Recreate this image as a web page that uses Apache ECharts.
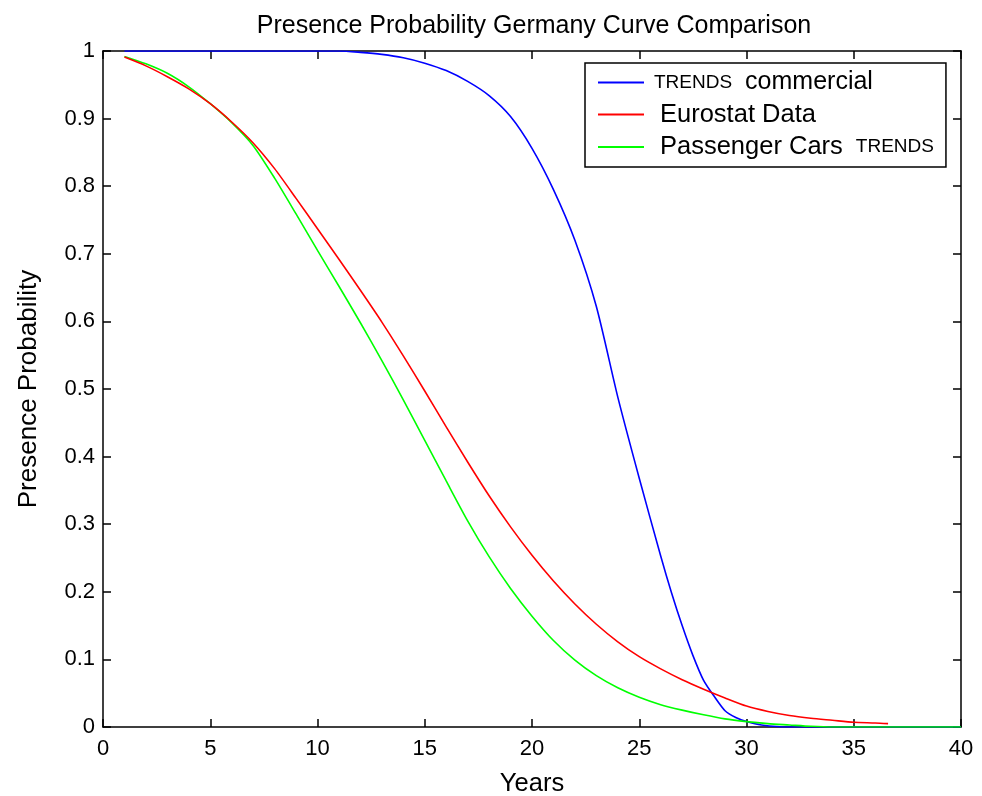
<!DOCTYPE html>
<html>
<head>
<meta charset="utf-8">
<title>Presence Probability Germany Curve Comparison</title>
<script src="https://cdn.jsdelivr.net/npm/echarts@6/dist/echarts.min.js"></script>
<style>
  html, body { margin: 0; padding: 0; background: #ffffff; }
  #chart { width: 982px; height: 796px; }
</style>
</head>
<body>
<div id="chart"></div>
<script>
// Survival (presence) curves by vehicle age in years
const commercialYears = [1, 2, 3, 4, 5, 6, 7, 8, 9, 10, 11, 12, 13, 14, 15, 16, 17, 18, 19, 20,
  21, 22, 23, 24, 25, 26, 26.5, 27, 27.5, 28, 28.5, 29, 29.5, 30, 30.7, 32, 34, 36, 38, 40];
const commercialValues = [1, 1, 1, 1, 1, 1, 1, 1, 1, 1, 1, 0.998, 0.995, 0.99, 0.982, 0.971, 0.955, 0.934, 0.903, 0.856,
  0.795, 0.72, 0.622, 0.488, 0.368, 0.253, 0.199, 0.15, 0.106, 0.069, 0.045, 0.024, 0.014, 0.008, 0.003, 0, 0, 0, 0, 0];

const eurostatYears = [1, 2, 3, 4, 5, 6, 7, 8, 9, 10, 11, 12, 13, 14, 15, 16, 17, 18, 19, 20,
  21, 22, 23, 24, 25, 26, 27, 28, 29, 30, 31, 32, 33, 34, 35, 36, 36.6];
const eurostatValues = [0.991, 0.978, 0.962, 0.944, 0.922, 0.895, 0.864, 0.826, 0.782, 0.737,
  0.692, 0.646, 0.599, 0.549, 0.497, 0.444, 0.392, 0.342, 0.296, 0.254,
  0.216, 0.182, 0.152, 0.126, 0.104, 0.086, 0.07, 0.056, 0.043, 0.031,
  0.023, 0.017, 0.013, 0.01, 0.007, 0.006, 0.005];

const passengerYears = [1, 2, 3, 4, 5, 6, 7, 8, 9, 10, 11, 12, 13, 14, 15, 16, 17, 18, 19, 20,
  21, 22, 23, 24, 25, 26, 27, 28, 29, 30, 31, 32, 33, 34, 35, 36, 37, 38, 39, 40];
const passengerValues = [0.992, 0.981, 0.967, 0.947, 0.922, 0.894, 0.86, 0.812, 0.759, 0.705,
  0.652, 0.598, 0.542, 0.484, 0.424, 0.364, 0.305, 0.252, 0.205, 0.164,
  0.128, 0.099, 0.076, 0.058, 0.044, 0.033, 0.025, 0.018, 0.012, 0.008,
  0.005, 0.003, 0.001, 0, 0, 0, 0, 0, 0, 0];

const seriesNames = ['TRENDS commercial', 'Eurostat Data', 'Passenger Cars TRENDS'];
const seriesColors = ['#0000ff', '#ff0000', '#00ff00'];
const xTicks = { min: 0, max: 40, interval: 5 };
const yTicks = { min: 0, max: 1, interval: 0.1 };

const pairs = (xs, ys) => xs.map((x, i) => [x, ys[i]]);

const FONT = 'Liberation Sans, Arial, sans-serif';
const frameLine = { show: true, onZero: false, lineStyle: { color: '#000000', width: 1.5 } };
const innerTick = { show: true, inside: true, length: 8, lineStyle: { color: '#000000', width: 1.5 } };

const chart = echarts.init(document.getElementById('chart'), null, { renderer: 'canvas' });

const lineSeries = (name, color, data, z) => ({
  name: name,
  type: 'line',
  data: data,
  showSymbol: false,
  symbol: 'none',
  smooth: 0.25,
  z: z,
  lineStyle: { color: color, width: 1.6 },
  itemStyle: { color: color },
  emphasis: { disabled: true }
});

chart.setOption({
  animation: false,
  backgroundColor: '#ffffff',
  title: {
    text: 'Presence Probability Germany Curve Comparison',
    left: 529,
    textAlign: 'center',
    top: 9,
    textStyle: { fontFamily: FONT, fontSize: 25, fontWeight: 'normal', color: '#000000' }
  },
  grid: { left: 103, right: 21, top: 51, bottom: 69, containLabel: false, outerBoundsMode: 'none' },
  legend: {
    data: seriesNames,
    orient: 'vertical',
    left: 585,
    top: 63,
    padding: [7, 12, 7, 13],
    itemGap: 6.5,
    itemWidth: 46,
    itemHeight: 2,
    icon: 'rect',
    backgroundColor: '#ffffff',
    borderColor: '#000000',
    borderWidth: 1.5,
    borderRadius: 0,
    selectedMode: false,
    formatter: function (name) {
      if (name === 'TRENDS commercial') return '{s|TRENDS}{c|commercial}';
      if (name === 'Eurostat Data') return '{n|Eurostat Data}';
      return '{n|Passenger Cars}{t|TRENDS}';
    },
    textStyle: {
      fontFamily: FONT,
      color: '#000000',
      padding: [0, 0, 0, 5],
      rich: {
        s: { fontFamily: FONT, fontSize: 19, color: '#000000', lineHeight: 26 },
        c: { fontFamily: FONT, fontSize: 25, color: '#000000', lineHeight: 26, padding: [0, 0, 0, 13] },
        n: { fontFamily: FONT, fontSize: 25.5, color: '#000000', lineHeight: 26, padding: [0, 0, 0, 6] },
        t: { fontFamily: FONT, fontSize: 19, color: '#000000', lineHeight: 26, padding: [0, 0, 0, 13] }
      }
    }
  },
  xAxis: [
    {
      type: 'value', position: 'bottom',
      min: xTicks.min, max: xTicks.max, interval: xTicks.interval,
      name: 'Years', nameLocation: 'middle', nameGap: 44,
      nameTextStyle: { fontFamily: FONT, fontSize: 25.5, color: '#000000' },
      axisLine: frameLine, axisTick: innerTick,
      axisLabel: { fontFamily: FONT, fontSize: 22, color: '#000000', margin: 11 },
      splitLine: { show: false }
    },
    {
      type: 'value', position: 'top',
      min: xTicks.min, max: xTicks.max, interval: xTicks.interval,
      axisLine: frameLine, axisTick: innerTick,
      axisLabel: { show: false }, splitLine: { show: false }
    }
  ],
  yAxis: [
    {
      type: 'value', position: 'left',
      min: yTicks.min, max: yTicks.max, interval: yTicks.interval,
      name: 'Presence Probability', nameLocation: 'middle', nameGap: 61, nameRotate: 90,
      nameTextStyle: { fontFamily: FONT, fontSize: 26, color: '#000000' },
      axisLine: frameLine, axisTick: innerTick,
      axisLabel: {
        fontFamily: FONT, fontSize: 22, color: '#000000', margin: 8,
        formatter: v => (v === 0 || v === 1) ? String(v) : v.toFixed(1)
      },
      splitLine: { show: false }
    },
    {
      type: 'value', position: 'right',
      min: yTicks.min, max: yTicks.max, interval: yTicks.interval,
      axisLine: frameLine, axisTick: innerTick,
      axisLabel: { show: false }, splitLine: { show: false }
    }
  ],
  series: [
    lineSeries(seriesNames[0], seriesColors[0], pairs(commercialYears, commercialValues), 2),
    lineSeries(seriesNames[1], seriesColors[1], pairs(eurostatYears, eurostatValues), 4),
    lineSeries(seriesNames[2], seriesColors[2], pairs(passengerYears, passengerValues), 3)
  ]
});
</script>
</body>
</html>
